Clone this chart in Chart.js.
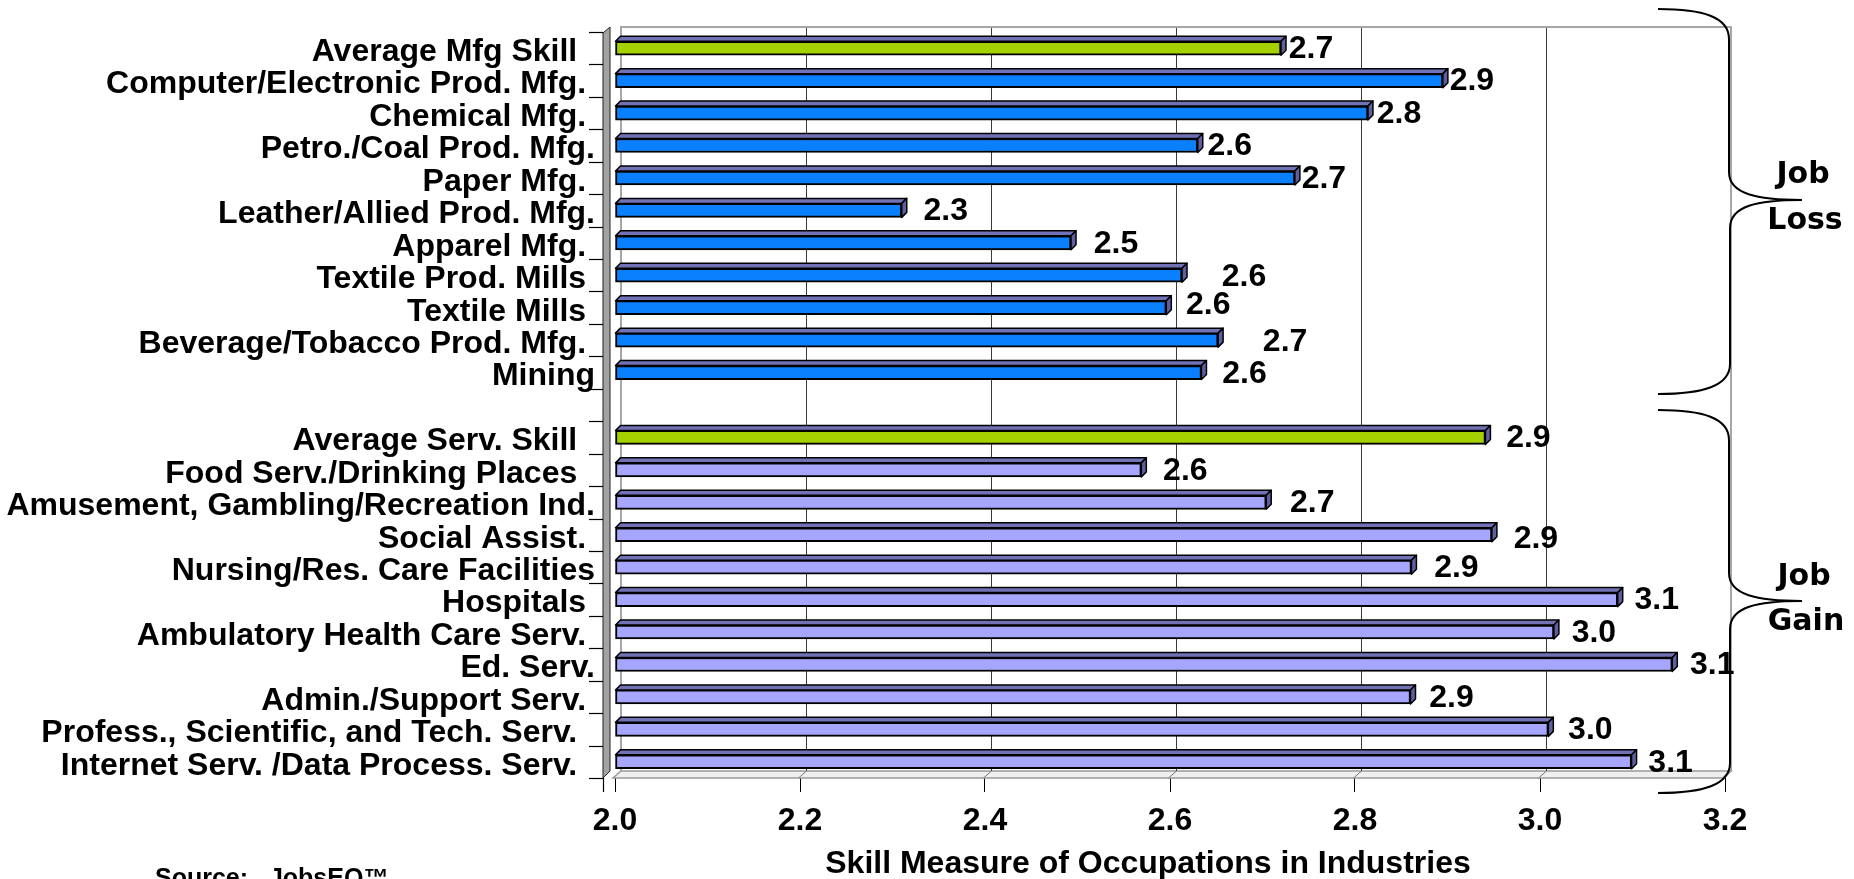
<!DOCTYPE html>
<html><head><meta charset="utf-8">
<script src="https://cdn.jsdelivr.net/npm/chart.js@4/dist/chart.umd.min.js"></script>
<style>html,body{margin:0;padding:0;background:#fff;overflow:hidden}canvas{display:block}</style>
</head><body>
<canvas id="c" width="1854" height="879"></canvas>
<script>
// ---------------- DATA ----------------
const jobLossIndustries = ['Average Mfg Skill','Computer/Electronic Prod. Mfg.','Chemical Mfg.','Petro./Coal Prod. Mfg.','Paper Mfg.','Leather/Allied Prod. Mfg.','Apparel Mfg.','Textile Prod. Mills','Textile Mills','Beverage/Tobacco Prod. Mfg.','Mining'];
const jobLossSkill = [2.720, 2.895, 2.814, 2.630, 2.735, 2.310, 2.493, 2.613, 2.596, 2.652, 2.634];
const jobGainIndustries = ['Average Serv. Skill','Food Serv./Drinking Places','Amusement, Gambling/Recreation Ind.','Social Assist.','Nursing/Res. Care Facilities','Hospitals','Ambulatory Health Care Serv.','Ed. Serv.','Admin./Support Serv.','Profess., Scientific, and Tech. Serv.','Internet Serv. /Data Process. Serv.'];
const jobGainSkill = [2.941, 2.569, 2.704, 2.948, 2.861, 3.084, 3.015, 3.143, 2.860, 3.009, 3.099];
const xTickValues = [2.0, 2.2, 2.4, 2.6, 2.8, 3.0, 3.2];
const groupNames = [['Job','Loss'], ['Job','Gain']];
const axisTitle = 'Skill Measure of Occupations in Industries';
const sourceNote = 'Source:   JobsEQ\u2122';

// ---------------- STYLE ----------------
const GREEN = '#A6D100', BLUE = '#0A80FF', LAV = '#A6A6FF';
const TOPFACE = '#7171B6', SIDEFACE = '#5F5FA0';
const FONT_FAMILY = '"Liberation Sans", Arial, sans-serif';
const LABEL_FONT = 'bold 32px ' + FONT_FAMILY;
const NUM_FONT = 'bold 32px ' + FONT_FAMILY;
// horizontal / vertical nudge of each value label (same order as rows, gap included)
const valueLabelNudge = [-12,-13,-11,-10,-13,2,3,20,0,25,1, 0, 1,2,4,2,3,-3,-2,-2,-1,0,-3];
const valueLabelNudgeY = [0,0,0,0,0,0,0,1,-4,1,1, 0, 0,0,0,3,0,0,0,0,0,0,0];
// right-edge indent of each category label, in spaces (as in the original slide)
const labelIndent = [2,1,1,0,1,0,1,1,1,1,0, 0, 2,2,0,1,0,1,1,0,1,2,2];

const labels = [...jobLossIndustries, '', ...jobGainIndustries];
const values = [...jobLossSkill, null, ...jobGainSkill];
const nLoss = jobLossIndustries.length;
const barColors = labels.map((l, i) => (i === 0 || i === nLoss + 1) ? GREEN : (i < nLoss ? BLUE : LAV));

const framePlugin = {
  id: 'frame3d',
  beforeDatasetsDraw(chart) {
    const ctx = chart.ctx, xs = chart.scales.x, ys = chart.scales.y, ca = chart.chartArea;
    const D = 6;
    const wallL = xs.getPixelForValue(xTickValues[0]) + D;
    const wallR = xs.getPixelForValue(xTickValues[xTickValues.length - 1]) + D;
    const wallT = ca.top - 5, wallB = ca.bottom - 7;
    ctx.save();
    // floor
    ctx.beginPath();
    ctx.moveTo(wallL, wallB); ctx.lineTo(wallR, wallB);
    ctx.lineTo(wallR - 8, ca.bottom); ctx.lineTo(ca.left - 2, ca.bottom); ctx.closePath();
    ctx.fillStyle = '#EFEFEF'; ctx.fill();
    ctx.strokeStyle = '#9A9A9A'; ctx.lineWidth = 1.5; ctx.stroke();
    // back wall grid
    ctx.lineWidth = 1;
    xTickValues.slice(1, -1).forEach(v => {
      const x = Math.round(xs.getPixelForValue(v) + D) + 0.5;
      ctx.strokeStyle = '#3A3A3A';
      ctx.beginPath(); ctx.moveTo(x, wallT); ctx.lineTo(x, wallB); ctx.stroke();
      ctx.strokeStyle = '#777';
      ctx.beginPath(); ctx.moveTo(x, wallB); ctx.lineTo(x - 8, ca.bottom); ctx.stroke();
    });
    // back wall border
    ctx.strokeStyle = '#A6A6A6'; ctx.lineWidth = 2;
    ctx.beginPath(); ctx.moveTo(wallL, wallB); ctx.lineTo(wallL, wallT); ctx.lineTo(wallR, wallT); ctx.lineTo(wallR, wallB); ctx.lineTo(wallR - 8, ca.bottom); ctx.stroke();
    // left side wall
    const lx0 = ca.left - 12, lx1 = ca.left - 5;
    ctx.beginPath();
    ctx.moveTo(lx0, wallT + 6); ctx.lineTo(lx1, wallT); ctx.lineTo(lx1, wallB); ctx.lineTo(lx0, ca.bottom); ctx.closePath();
    ctx.fillStyle = '#A3A3A3'; ctx.fill();
    ctx.strokeStyle = '#222'; ctx.lineWidth = 1; ctx.stroke();
    // category tick marks
    const half = (ys.getPixelForValue(1) - ys.getPixelForValue(0)) / 2;
    ctx.strokeStyle = '#000'; ctx.lineWidth = 1.2;
    for (let i = 0; i <= labels.length; i++) {
      const y = Math.round(ys.getPixelForValue(0) - half + i * 2 * half) + 0.5;
      ctx.beginPath(); ctx.moveTo(ca.left - 26, y); ctx.lineTo(ca.left - 12, y); ctx.stroke();
    }
    // front corner tick under side wall
    ctx.beginPath(); ctx.moveTo(lx0 + 0.5, ca.bottom); ctx.lineTo(lx0 + 0.5, ca.bottom + 14); ctx.stroke();
    ctx.restore();
  },
  afterDatasetsDraw(chart) {
    const ctx = chart.ctx, meta = chart.getDatasetMeta(0), ca = chart.chartArea;
    const d = 5;
    ctx.save();
    ctx.lineJoin = 'round';
    meta.data.forEach((el, i) => {
      if (values[i] == null) return;
      const p = el.getProps(['x', 'y', 'base', 'height'], true);
      const b = Math.max(p.base, ca.left);
      const top = p.y - p.height / 2, bot = p.y + p.height / 2;
      ctx.strokeStyle = '#000'; ctx.lineWidth = 1.5;
      ctx.beginPath();
      ctx.moveTo(b, top); ctx.lineTo(b + d, top - d); ctx.lineTo(p.x + d, top - d); ctx.lineTo(p.x, top); ctx.closePath();
      ctx.fillStyle = TOPFACE; ctx.fill(); ctx.stroke();
      ctx.beginPath();
      ctx.moveTo(p.x, top); ctx.lineTo(p.x + d, top - d); ctx.lineTo(p.x + d, bot - d); ctx.lineTo(p.x, bot); ctx.closePath();
      ctx.fillStyle = SIDEFACE; ctx.fill(); ctx.stroke();
      ctx.fillStyle = '#000'; ctx.font = NUM_FONT; ctx.textAlign = 'center'; ctx.textBaseline = 'middle';
      ctx.fillText(values[i].toFixed(1), p.x + 42 + valueLabelNudge[i], p.y + 1 + valueLabelNudgeY[i]);
    });
    ctx.restore();
  },
  afterDraw(chart) {
    const ctx = chart.ctx, xs = chart.scales.x;
    ctx.save();
    ctx.fillStyle = '#000';
    // axis title
    ctx.font = LABEL_FONT; ctx.textAlign = 'center'; ctx.textBaseline = 'middle';
    ctx.fillText(axisTitle, (xs.left + xs.right) / 2 - 22, 864);
    // source
    ctx.font = 'bold 25px ' + FONT_FAMILY; ctx.textAlign = 'left'; ctx.textBaseline = 'alphabetic';
    ctx.fillText(sourceNote, 155, 886);
    // braces
    ctx.strokeStyle = '#000'; ctx.lineWidth = 2;
    function brace(x0, xv, xt, yTop, yTip, yBot) {
      ctx.beginPath();
      ctx.moveTo(x0, yTop);
      ctx.bezierCurveTo(x0 + 45, yTop, xv, yTop + 8, xv, yTop + 30);
      ctx.lineTo(xv, yTip - 28);
      ctx.bezierCurveTo(xv, yTip - 6, xt - 45, yTip, xt, yTip);
      ctx.bezierCurveTo(xt - 45, yTip, xv + 1, yTip + 6, xv + 1, yTip + 28);
      ctx.lineTo(xv + 1, yBot - 30);
      ctx.bezierCurveTo(xv + 1, yBot - 8, x0 + 45, yBot, x0, yBot);
      ctx.stroke();
    }
    brace(1658, 1729, 1802, 9, 200, 394);
    brace(1658, 1729, 1802, 410, 601, 793);
    ctx.font = 'bold 30px "DejaVu Sans", Verdana, sans-serif'; ctx.textAlign = 'center'; ctx.textBaseline = 'middle';
    ctx.fillText(groupNames[0][0], 1803, 175);
    ctx.fillText(groupNames[0][1], 1805, 221);
    ctx.fillText(groupNames[1][0], 1804, 577);
    ctx.fillText(groupNames[1][1], 1806, 622);
    ctx.restore();
  }
};

new Chart(document.getElementById('c'), {
  type: 'bar',
  data: {
    labels: labels,
    datasets: [{
      data: values,
      base: xTickValues[0],
      backgroundColor: barColors,
      borderColor: '#000',
      borderWidth: 2,
      borderSkipped: false,
      barThickness: 14
    }]
  },
  options: {
    indexAxis: 'y',
    responsive: false,
    animation: false,
    devicePixelRatio: 1,
    layout: { padding: { top: 32, right: 129, left: 0, bottom: 0 } },
    plugins: { legend: { display: false }, tooltip: { enabled: false }, title: { display: false } },
    scales: {
      y: {
        type: 'category',
        offset: true,
        grid: { display: false, drawTicks: false },
        border: { display: false },
        ticks: {
          font: { family: FONT_FAMILY, size: 32, weight: 'bold' }, color: '#000', padding: 20, labelOffset: 4, autoSkip: false,
          callback: (v, i) => labels[i] + ' '.repeat(labelIndent[i])
        },
        afterFit(s) { s.width = 615; s.paddingTop = 0; s.paddingBottom = 0; }
      },
      x: {
        type: 'linear',
        min: 2.0, max: 3.2,
        afterBuildTicks(s) { s.ticks = xTickValues.map(v => ({ value: v })); },
        grid: { drawOnChartArea: false, drawTicks: true, tickLength: 14, color: '#000', lineWidth: 1 },
        border: { display: false },
        ticks: { font: { family: FONT_FAMILY, size: 32, weight: 'bold' }, color: '#000', padding: 10, maxRotation: 0, autoSkip: false, callback: v => Number(v).toFixed(1) },
        afterFit(s) { s.height = 101; s.paddingLeft = 0; s.paddingRight = 0; }
      }
    }
  },
  plugins: [framePlugin]
});
</script>
</body></html>
